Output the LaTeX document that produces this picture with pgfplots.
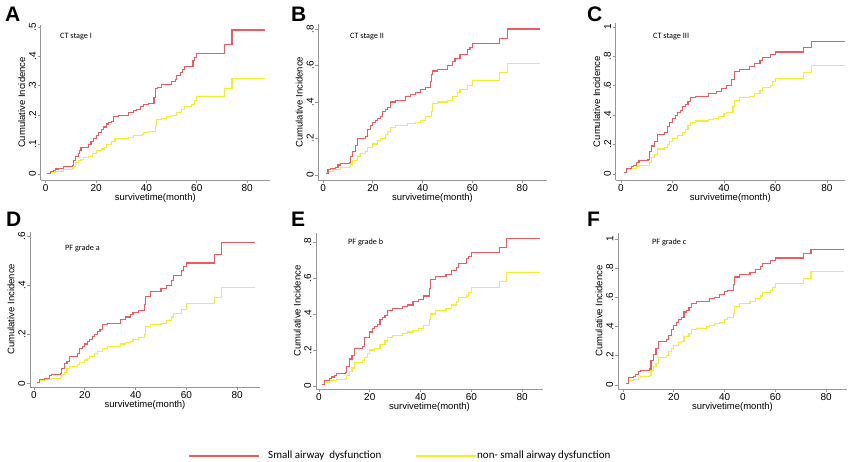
\documentclass[border=0pt]{standalone}
\usepackage{fontspec}
\setmainfont{Liberation Sans}
\newfontfamily\calfont{Carlito}
\usepackage{pgfplots}
\pgfplotsset{compat=1.18}
\definecolor{sad}{RGB}{242,88,96}
\definecolor{nsad}{RGB}{242,240,40}
\definecolor{axgray}{RGB}{150,150,150}
\pgfplotsset{
 stata/.style={
  scale only axis,
  axis lines=left,
  axis line style={-,axgray,line width=0.8pt},
  tick style={axgray,line width=0.8pt},
  tick align=outside,
  major tick length=3pt,
  xtick={0,20,40,60,80},
  xticklabels={0,20,40,60,80},
  tick label style={font=\fontsize{10}{10}\selectfont},
  xticklabel style={inner sep=1pt},
  yticklabel style={rotate=90,anchor=south,inner sep=1.5pt},
  /pgf/number format/assume math mode=true,
  xlabel={survivetime(month)},
  ylabel={Cumulative Incidence},
  label style={font=\fontsize{9.5}{10}\selectfont},
  xlabel style={at={(axis description cs:0.5,-0.116)},anchor=center},
  ylabel style={at={(axis description cs:-0.083,0.5)},anchor=center},
  anchor=south west,
  clip=false,
 },
 redl/.style={const plot, no marks, color=sad, line width=1.1pt},
 yell/.style={const plot, no marks, color=nsad, line width=1.1pt},
}
\begin{document}
\begin{tikzpicture}[x=1pt,y=1pt]
\useasboundingbox (0,0) rectangle (858,462);
% ---------------- A
\begin{axis}[stata,at={(40.7pt,282pt)},width=229.3pt,height=155pt,
  xmin=-2,xmax=89.1,ymin=-0.0204,ymax=0.507,
  ytick={0,0.1,0.2,0.3,0.4,0.5},yticklabels={0,.1,.2,.3,.4,.5}]
\addplot[yell] coordinates {(0.7,0.003)(2,0.006)(4,0.01)(7,0.015)(10.5,0.02)(11,0.025)(12,0.04)(13,0.045)(14,0.05)(15,0.055)(17,0.06)(18.5,0.07)(20,0.08)(22,0.085)(23.5,0.09)(24,0.1)(26,0.11)(27.5,0.12)(33,0.125)(35,0.13)(38,0.135)(39,0.14)(41,0.145)(43.5,0.165)(44,0.185)(46,0.19)(48,0.195)(50,0.2)(52,0.21)(54,0.22)(55,0.23)(58,0.235)(59,0.25)(60,0.265)(71,0.29)(74,0.325)(87,0.325)};
\addplot[redl] coordinates {(0.7,0.003)(2,0.01)(3,0.013)(4,0.017)(5,0.02)(7,0.027)(10.5,0.03)(11,0.045)(12,0.06)(13,0.07)(13.5,0.08)(14,0.09)(17,0.1)(18,0.11)(19,0.12)(20,0.13)(21,0.14)(22,0.15)(23,0.16)(24,0.17)(25,0.175)(26,0.18)(27,0.195)(29,0.2)(33,0.21)(35,0.215)(36,0.22)(37.5,0.23)(39,0.235)(41,0.24)(43,0.26)(43.5,0.29)(44.5,0.295)(46,0.305)(50,0.315)(51.5,0.32)(52,0.335)(53.5,0.345)(54.5,0.355)(55,0.365)(58.5,0.385)(59,0.395)(60,0.41)(71,0.44)(74,0.49)(87,0.49)};
\end{axis}
% ---------------- B
\begin{axis}[stata,at={(318.3pt,282pt)},width=228.4pt,height=155.7pt,
  xmin=-1.9,xmax=89.8,ymin=-0.0274,ymax=0.826,
  ytick={0,0.2,0.4,0.6,0.8},yticklabels={0,.2,.4,.6,.8}]
\addplot[yell] coordinates {(1,0.01)(2,0.02)(4,0.03)(7,0.04)(10.5,0.045)(11,0.06)(12,0.08)(14,0.1)(15,0.12)(17,0.13)(18,0.15)(20,0.17)(22,0.19)(23,0.2)(25,0.22)(26,0.24)(27,0.26)(29,0.27)(34,0.28)(37,0.29)(39,0.3)(41,0.32)(43.5,0.35)(44,0.39)(46,0.4)(50,0.41)(52,0.43)(54,0.45)(55,0.47)(58,0.49)(60,0.52)(71,0.56)(74,0.61)(87,0.61)};
\addplot[redl] coordinates {(1,0.01)(2,0.03)(3,0.035)(5,0.04)(6,0.055)(7,0.065)(10.5,0.07)(11,0.1)(12,0.13)(13,0.16)(14,0.2)(17,0.21)(18,0.25)(19,0.27)(20,0.29)(21,0.3)(22,0.31)(23,0.32)(24,0.35)(25,0.36)(26,0.37)(27,0.4)(29,0.41)(33,0.43)(35,0.44)(37,0.45)(39,0.47)(41,0.48)(43,0.51)(43.5,0.55)(44,0.57)(46,0.58)(50,0.6)(52,0.62)(53,0.64)(55,0.66)(58,0.69)(59,0.7)(60,0.72)(71,0.75)(74,0.8)(87,0.8)};
\end{axis}
% ---------------- C
\begin{axis}[stata,at={(615.7pt,282pt)},width=229.3pt,height=156.7pt,
  xmin=-2.06,xmax=87,ymin=-0.041,ymax=1.025,
  ytick={0,0.2,0.4,0.6,0.8,1},yticklabels={0,.2,.4,.6,.8,1}]
\addplot[yell] coordinates {(1,0.01)(2,0.03)(4,0.04)(6,0.05)(7,0.055)(10.5,0.06)(11,0.08)(12,0.11)(13,0.13)(14,0.17)(17,0.18)(18,0.2)(19,0.22)(20,0.24)(22,0.26)(24,0.28)(25,0.3)(26,0.33)(27,0.35)(29,0.36)(34,0.37)(36,0.38)(38,0.39)(40,0.41)(41,0.42)(43.5,0.46)(44,0.5)(46,0.52)(50,0.53)(52,0.55)(54,0.57)(55,0.59)(58,0.6)(59,0.63)(60,0.65)(71,0.69)(74,0.74)(87,0.74)};
\addplot[redl] coordinates {(1,0.01)(2,0.04)(4,0.05)(5,0.06)(6,0.08)(7,0.09)(10.5,0.1)(11,0.15)(12,0.19)(13,0.22)(14,0.27)(17,0.28)(18,0.32)(19,0.35)(20,0.38)(21,0.4)(22,0.42)(23,0.43)(24,0.46)(25,0.47)(26,0.49)(27,0.52)(29,0.53)(34,0.55)(37,0.56)(39,0.58)(41,0.6)(43,0.64)(44,0.7)(46,0.71)(50,0.73)(52,0.75)(54,0.77)(55,0.79)(58,0.81)(60,0.83)(71,0.86)(74,0.9)(87,0.9)};
\end{axis}
% ---------------- D
\begin{axis}[stata,at={(30pt,75pt)},width=230pt,height=155.3pt,
  xmin=-1.57,xmax=88.98,ymin=-0.015,ymax=0.6176,
  ytick={0,0.2,0.4,0.6},yticklabels={0,.2,.4,.6}]
\addplot[yell] coordinates {(1,0.003)(2,0.01)(4,0.015)(7,0.02)(10.5,0.025)(11,0.035)(12,0.045)(13,0.06)(14,0.07)(17,0.075)(18,0.085)(20,0.095)(21,0.1)(22,0.11)(24,0.12)(25,0.13)(27,0.14)(29,0.15)(34,0.16)(36,0.165)(38,0.17)(39,0.18)(41,0.185)(43.5,0.2)(44,0.23)(46,0.24)(50,0.245)(52,0.255)(54,0.27)(55,0.285)(58,0.3)(60,0.325)(71,0.35)(74,0.39)(87,0.39)};
\addplot[redl] coordinates {(1,0.005)(2,0.015)(4,0.02)(6,0.03)(7,0.035)(10.5,0.04)(11,0.06)(12,0.08)(13,0.09)(14,0.11)(17,0.12)(18,0.14)(19,0.15)(20,0.16)(21,0.17)(22,0.18)(23,0.19)(24,0.2)(25,0.21)(26,0.22)(27,0.24)(29,0.245)(34,0.26)(36,0.27)(38,0.28)(39,0.29)(41,0.295)(43.5,0.32)(44,0.355)(46,0.375)(50,0.385)(52,0.4)(54,0.42)(55,0.44)(58,0.46)(59,0.475)(60,0.49)(71,0.525)(74,0.575)(87,0.575)};
\end{axis}
% ---------------- E
\begin{axis}[stata,at={(316pt,73pt)},width=227pt,height=156pt,
  xmin=-1.18,xmax=88.2,ymin=-0.0166,ymax=0.85,
  ytick={0,0.2,0.4,0.6,0.8},yticklabels={0,.2,.4,.6,.8}]
\addplot[yell] coordinates {(1,0.01)(2,0.02)(4,0.03)(7,0.035)(10.5,0.04)(11,0.06)(12,0.08)(13,0.1)(14,0.13)(17,0.14)(18,0.16)(19,0.18)(20,0.2)(22,0.21)(24,0.23)(26,0.25)(27,0.27)(29,0.28)(33,0.29)(35,0.3)(37,0.31)(39,0.32)(41,0.335)(43.5,0.37)(44,0.4)(46,0.42)(50,0.43)(52,0.45)(54,0.47)(55,0.49)(58,0.5)(59,0.52)(60,0.545)(71,0.58)(74,0.63)(87,0.63)};
\addplot[redl] coordinates {(1,0.01)(2,0.03)(4,0.04)(5,0.05)(6,0.06)(7,0.07)(10.5,0.075)(11,0.11)(12,0.15)(13,0.17)(14,0.21)(17,0.22)(18,0.27)(20,0.3)(21,0.32)(22,0.33)(23,0.34)(24,0.37)(25,0.38)(26,0.39)(27,0.42)(29,0.43)(33,0.44)(35,0.45)(37,0.47)(39,0.48)(41,0.5)(43.5,0.54)(44,0.59)(46,0.61)(50,0.62)(52,0.64)(54,0.66)(55,0.68)(58,0.71)(59,0.72)(60,0.74)(71,0.77)(74,0.82)(87,0.82)};
\end{axis}
% ---------------- F
\begin{axis}[stata,at={(618pt,73pt)},width=229pt,height=156pt,
  xmin=-1.97,xmax=88.2,ymin=-0.027,ymax=1.041,
  ytick={0,0.2,0.4,0.6,0.8,1},yticklabels={0,.2,.4,.6,.8,1}]
\addplot[yell] coordinates {(1,0.01)(2,0.03)(4,0.04)(6,0.05)(7,0.06)(10.5,0.065)(11,0.1)(12,0.13)(13,0.15)(14,0.19)(17,0.2)(18,0.23)(19,0.25)(20,0.27)(22,0.29)(23,0.3)(24,0.33)(26,0.35)(27,0.38)(29,0.39)(33,0.4)(34,0.41)(36,0.42)(38,0.43)(40,0.45)(41,0.46)(43.5,0.49)(44,0.54)(46,0.56)(50,0.57)(52,0.59)(54,0.61)(55,0.635)(58,0.65)(59,0.67)(60,0.695)(71,0.73)(74,0.78)(87,0.78)};
\addplot[redl] coordinates {(1,0.01)(2,0.05)(4,0.06)(5,0.07)(6,0.09)(7,0.1)(10.5,0.11)(11,0.17)(12,0.21)(13,0.25)(14,0.3)(17,0.31)(18,0.34)(19,0.38)(20,0.41)(21,0.43)(22,0.45)(23,0.46)(24,0.5)(25,0.51)(26,0.53)(27,0.56)(29,0.575)(34,0.59)(36,0.6)(38,0.62)(40,0.64)(41,0.65)(43.5,0.69)(44,0.74)(46,0.755)(50,0.77)(52,0.79)(54,0.81)(55,0.83)(58,0.85)(60,0.87)(71,0.9)(74,0.925)(87,0.925)};
\end{axis}
% panel letters
\foreach \l/\x/\y in {A/5/440,B/291/440,C/587/440,D/6/235,E/291/235,F/587/235}
  \node[font=\bfseries\fontsize{21}{21}\selectfont,anchor=base west,inner sep=0pt] at (\x,\y) {\l};
% annotations
\begin{scope}[every node/.style={font=\calfont\fontsize{8.2}{9}\selectfont,anchor=base west,inner sep=0pt}]
\node at (60,423.5) {CT stage I};
\node at (350,423.5) {CT stage II};
\node at (653,423.5) {CT stage III};
\node at (65,211.5) {PF grade a};
\node at (348,217.5) {PF grade b};
\node at (652,217.5) {PF grade c};
\end{scope}
% legend
\draw[sad,line width=1.1pt] (189,6) -- (259,6);
\node[font=\calfont\fontsize{11}{11}\selectfont,anchor=west,inner sep=0pt] at (268,6) {Small airway\ \ dysfunction};
\draw[nsad,line width=1.1pt] (416,6) -- (476,6);
\node[font=\calfont\fontsize{11}{11}\selectfont,anchor=west,inner sep=0pt] at (477,6) {non- small airway dysfunction};
\end{tikzpicture}
\end{document}
